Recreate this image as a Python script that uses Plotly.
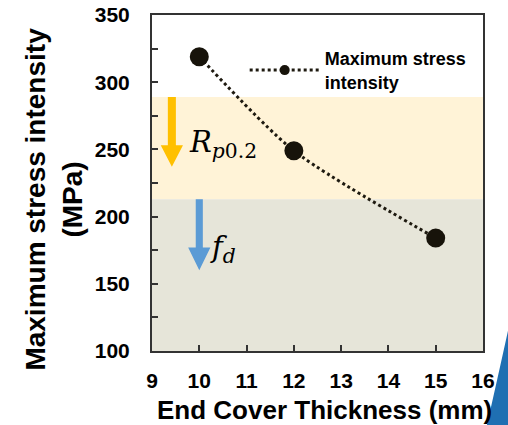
import plotly.graph_objects as go

# data
thickness = [10, 12, 15]
stress = [319, 249, 184]
series_name = "Maximum stress<br>intensity"
rp02 = 289   # yield strength band top (MPa)
fd = 213     # design strength band top (MPa)
y_min, y_max = 100, 350
x_min, x_max = 9, 16
x_ticks = [9, 10, 11, 12, 13, 14, 15, 16]
y_ticks = [100, 150, 200, 250, 300, 350]

FONT = "Arial, Liberation Sans, sans-serif"
SERIF = "Cambria Math, DejaVu Serif, Liberation Serif, serif"
LINE_C = "#1e1a10"
MARK_C = "#17130a"

fig = go.Figure()

fig.add_trace(go.Scatter(
    x=thickness, y=stress, mode="lines+markers",
    line=dict(color=LINE_C, width=3, dash="dot", shape="spline", smoothing=0.7),
    marker=dict(color=MARK_C, size=19),
    showlegend=False, hoverinfo="x+y",
))
# legend-only entry (smaller marker like the reference legend)
fig.add_trace(go.Scatter(
    x=[None], y=[None], mode="lines+markers", name=series_name,
    line=dict(color=LINE_C, width=3, dash="dot"),
    marker=dict(color=MARK_C, size=10),
))

shapes = []
# bands
shapes.append(dict(type="rect", xref="x", yref="y", x0=x_min, x1=x_max, y0=fd, y1=rp02,
                   fillcolor="#FFF3D7", line=dict(width=0), layer="below"))
shapes.append(dict(type="rect", xref="x", yref="y", x0=x_min, x1=x_max, y0=y_min, y1=fd,
                   fillcolor="#E6E5D9", line=dict(width=0), layer="below"))

def arrow(xc, ytop, yhead, ytip, sw, hw, color):
    p = (f"M{xc-sw},{ytop} L{xc+sw},{ytop} L{xc+sw},{yhead} L{xc+hw},{yhead} "
         f"L{xc},{ytip} L{xc-hw},{yhead} L{xc-sw},{yhead} Z")
    return dict(type="path", xref="x", yref="y", path=p, fillcolor=color,
                line=dict(width=0), layer="above")

shapes.append(arrow(9.42, rp02, 253, 237, 0.085, 0.235, "#FFC000"))
shapes.append(arrow(10.0, fd, 177, 160, 0.075, 0.235, "#5B9BD5"))

# decorative blue corner from the source slide
shapes.append(dict(type="path", xref="paper", yref="paper",
                   path="M 1.08,0.08 L 1.08,-0.25 L 1.005,-0.25 Q 1.04,-0.1 1.08,0.08 Z",
                   fillcolor="#1f6fb2", line=dict(width=0), layer="above"))

fig.update_layout(
    width=508, height=425,
    margin=dict(l=152, r=25, t=15, b=74),
    paper_bgcolor="white", plot_bgcolor="white",
    font=dict(family=FONT, color="#000000"),
    shapes=shapes,
    showlegend=True,
    legend=dict(x=0.28, y=0.925, xanchor="left", yanchor="top",
                bgcolor="rgba(0,0,0,0)",
                font=dict(size=18, family=FONT, color="#000", weight="bold"),
                itemwidth=70, tracegroupgap=0),
    annotations=[
        dict(x=9.75, y=254, xref="x", yref="y", xanchor="left", yanchor="middle",
             text="<i>R</i><sub><i>p</i>0.2</sub>", showarrow=False,
             font=dict(family=SERIF, size=29, color="#000")),
        dict(x=10.18, y=176, xref="x", yref="y", xanchor="left", yanchor="middle",
             text="<i>f</i><sub><i>d</i></sub>", showarrow=False,
             font=dict(family=SERIF, size=29, color="#000")),
        dict(x=-0.2976, y=0.452, xref="paper", yref="paper", xanchor="center", yanchor="middle",
             text="Maximum stress intensity<br>(MPa)", textangle=-90, showarrow=False,
             font=dict(size=28, family=FONT, color="#000", weight="bold")),
        dict(x=0.52, y=-0.1756, xref="paper", yref="paper", xanchor="center", yanchor="middle",
             text="End Cover Thickness (mm)", showarrow=False,
             font=dict(size=26, family=FONT, color="#000", weight="bold")),
    ],
)

fig.update_xaxes(
    range=[x_min, x_max], tickvals=x_ticks, ticktext=[str(v) for v in x_ticks],
    ticks="inside", ticklen=6, tickwidth=1.5, tickcolor="#333",
    showline=True, linecolor="#333", linewidth=2, mirror=True, showgrid=False, zeroline=False,
    tickfont=dict(size=21, family=FONT, color="#000", weight="bold"), ticklabelstandoff=10,
    automargin=False,
)
fig.update_yaxes(
    range=[y_min, y_max], tickvals=y_ticks,
    ticks="inside", ticklen=6, tickwidth=1.5, tickcolor="#333",
    minor=dict(dtick=25, ticks="inside", ticklen=6, tickwidth=1.5, tickcolor="#333"),
    showline=True, linecolor="#333", linewidth=2, mirror=True, showgrid=False, zeroline=False,
    tickfont=dict(size=21, family=FONT, color="#000", weight="bold"), ticklabelstandoff=16,
    automargin=False,
)

fig.write_html("out.html", config={"displayModeBar": False},
               post_script="document.body.style.margin='0';")
